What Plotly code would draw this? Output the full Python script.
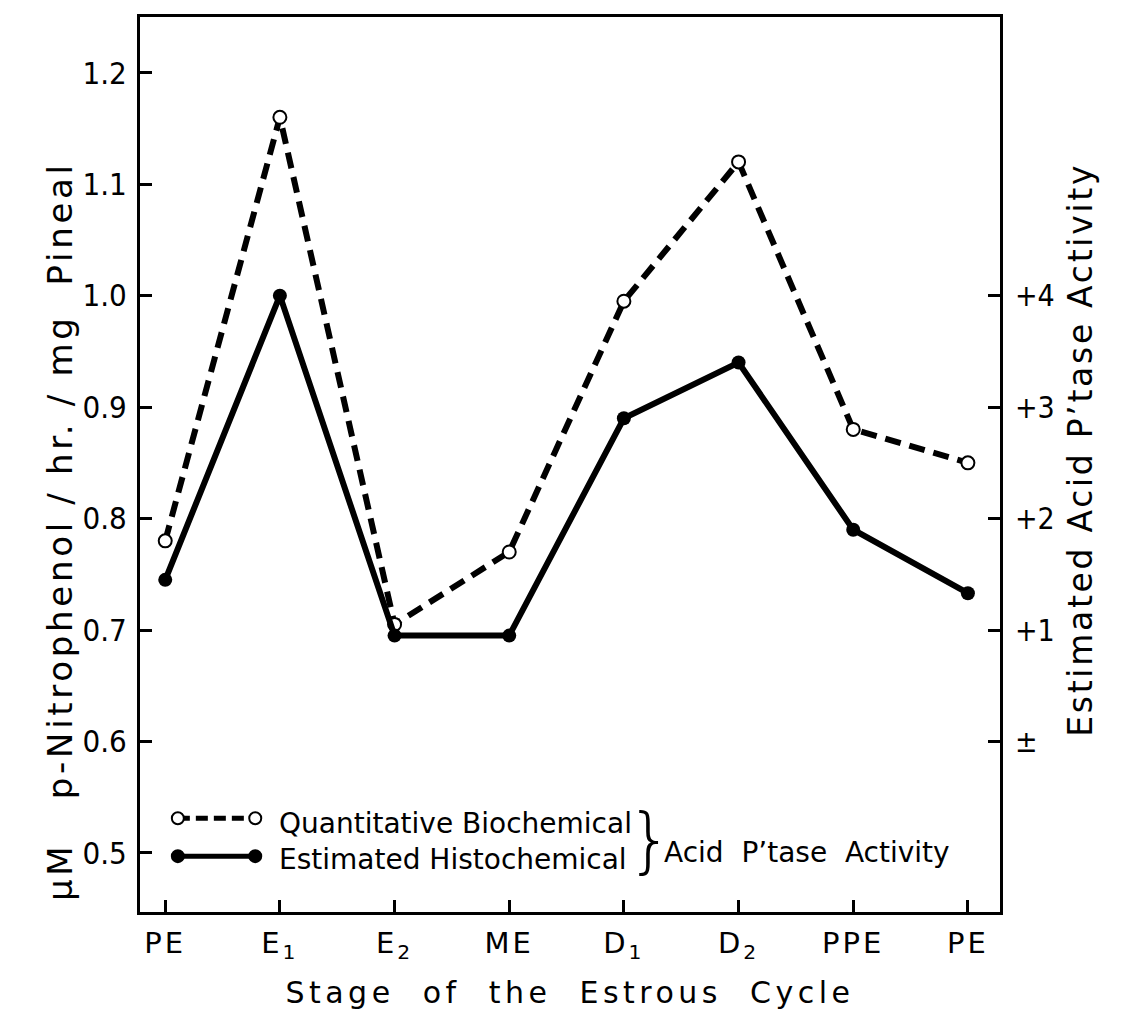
import plotly.graph_objects as go

# ---- data ----
stages = ["PE", "E<sub>1</sub>", "E<sub>2</sub>", "ME", "D<sub>1</sub>", "D<sub>2</sub>", "PPE", "PE"]
stage_pos = [0, 1, 2, 3, 4, 5, 6, 7]
quantitative = [0.78, 1.16, 0.705, 0.77, 0.995, 1.12, 0.88, 0.85]
histochemical = [0.745, 1.00, 0.695, 0.695, 0.89, 0.94, 0.79, 0.733]
left_ticks = [0.5, 0.6, 0.7, 0.8, 0.9, 1.0, 1.1, 1.2]
left_ticktext = ["0.5", "0.6", "0.7", "0.8", "0.9", "1.0", "1.1", "1.2"]
right_ticks = [0, 1, 2, 3, 4]
right_ticktext = ["±", "+1", "+2", "+3", "+4"]

FONT = "DejaVu Sans"
NUMFONT = "DejaVu Sans Condensed, DejaVu Sans"
yr = [0.447, 1.25]
# right axis: score = (value - 0.6) * 10
yr2 = [(yr[0] - 0.6) * 10, (yr[1] - 0.6) * 10]

fig = go.Figure()
fig.add_trace(go.Scatter(
    x=stage_pos, y=quantitative, mode="lines+markers",
    line=dict(color="black", width=6, dash="16px,9px"),
    marker=dict(symbol="circle", size=13, color="white", line=dict(color="black", width=2)),
    showlegend=False, cliponaxis=False))
fig.add_trace(go.Scatter(
    x=stage_pos, y=histochemical, mode="lines+markers",
    line=dict(color="black", width=6),
    marker=dict(symbol="circle", size=14, color="black"),
    showlegend=False, cliponaxis=False))
# empty trace to activate the right axis
fig.add_trace(go.Scatter(x=[], y=[], yaxis="y2", showlegend=False))

axis_line = dict(showline=True, linecolor="black", linewidth=3, showgrid=False, zeroline=False)

fig.update_layout(
    width=1107, height=1012,
    margin=dict(l=132, r=115, t=6, b=108),
    paper_bgcolor="white", plot_bgcolor="white",
    font=dict(family=FONT, color="black"),
    xaxis=dict(
        **axis_line, mirror=True, range=[-0.22, 7.28],
        tickvals=stage_pos, ticktext=stages, ticks="inside", ticklen=12, tickwidth=3,
        tickcolor="black", tickfont=dict(size=29), ticklabelstandoff=3,
        title=dict(text="Stage  of  the  Estrous  Cycle", font=dict(size=30), standoff=20),
    ),
    yaxis=dict(
        **axis_line, mirror=True, range=yr,
        tickvals=left_ticks, ticktext=left_ticktext, ticks="inside", ticklen=12, tickwidth=3,
        tickcolor="black", tickfont=dict(size=31, family=NUMFONT), ticklabelstandoff=4,
    ),
    yaxis2=dict(
        overlaying="y", side="right", range=yr2, showgrid=False, zeroline=False,
        showline=False, tickvals=right_ticks, ticktext=right_ticktext,
        ticks="inside", ticklen=12, tickwidth=3, tickcolor="black",
        tickfont=dict(size=30, family=NUMFONT), ticklabelstandoff=14,
    ),
)

# ---- y-axis titles as rotated annotations (index 0 and 1) ----
fig.add_annotation(xref="paper", yref="paper", x=-0.093, y=0.425, xanchor="center", yanchor="middle",
                   textangle=-90, text="μM   p-Nitrophenol / hr. / mg  Pineal", showarrow=False,
                   font=dict(size=34))
fig.add_annotation(xref="paper", yref="paper", x=1.093, y=0.517, xanchor="center", yanchor="middle",
                   textangle=-90, text="Estimated Acid P’tase Activity", showarrow=False,
                   font=dict(size=33))

# ---- manual legend (inside plot, lower left) ----
row1, row2 = 0.1047, 0.0624
lx0, lx1 = 0.044, 0.134
shapes = [
    dict(type="line", xref="paper", yref="paper", x0=lx0, x1=lx1, y0=row1, y1=row1,
         line=dict(color="black", width=5, dash="12px,6px")),
    dict(type="line", xref="paper", yref="paper", x0=lx0, x1=lx1, y0=row2, y1=row2,
         line=dict(color="black", width=5)),
]
for xa, filled, yy in [(lx0, False, row1), (lx1, False, row1), (lx0, True, row2), (lx1, True, row2)]:
    shapes.append(dict(type="circle", xref="paper", yref="paper", xsizemode="pixel", ysizemode="pixel",
                       xanchor=xa, yanchor=yy, x0=-6, x1=6, y0=-6, y1=6,
                       fillcolor="black" if filled else "white", line=dict(color="black", width=2)))
fig.update_layout(shapes=shapes)

fig.add_annotation(xref="paper", yref="paper", x=0.159, y=row1 - 0.006, xanchor="left", yanchor="middle",
                   text="Quantitative Biochemical", showarrow=False, font=dict(size=28))
fig.add_annotation(xref="paper", yref="paper", x=0.159, y=row2 - 0.004, xanchor="left", yanchor="middle",
                   text="Estimated Histochemical", showarrow=False, font=dict(size=28))
fig.add_annotation(xref="paper", yref="paper", x=0.593, y=(row1 + row2) / 2 - 0.002, xanchor="center", yanchor="middle",
                   text="}", showarrow=False, font=dict(size=72, weight=200))
fig.add_annotation(xref="paper", yref="paper", x=0.607, y=0.0668, xanchor="left", yanchor="middle",
                   text="Acid  P’tase  Activity", showarrow=False, font=dict(size=28))

post = """
var gd = document.getElementById('{plot_id}');
function ls(sel, v){ gd.querySelectorAll(sel).forEach(function(t){ t.style.letterSpacing = v; }); }
ls('text.xtitle', '4.5px');
ls('.annotation[data-index="0"] text', '3.7px');
ls('.annotation[data-index="1"] text', '2.7px');
ls('.xtick text', '3px');
"""
fig.write_html("out.html", post_script=post)
